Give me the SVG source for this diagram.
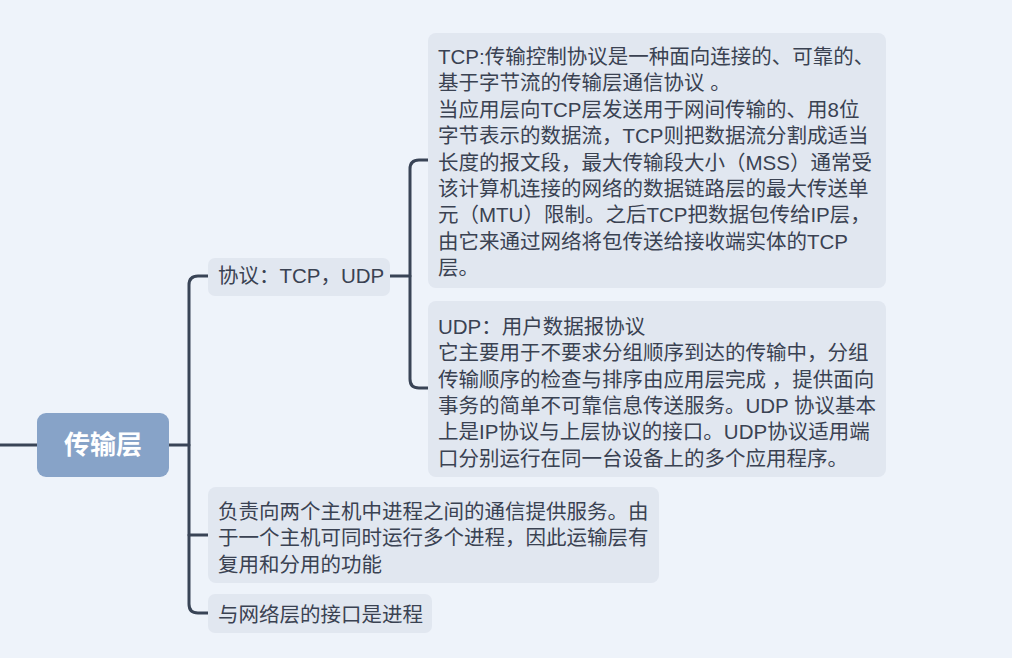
<svg xmlns="http://www.w3.org/2000/svg" width="1012" height="658" viewBox="0 0 1012 658">
<style>
.bg{fill:#eef3fa}
.box{fill:#e1e7f0}
.root{fill:#87a3c8}
.t{font-family:"Liberation Sans","Noto Sans CJK SC",sans-serif;font-size:20.5px;fill:#3a4252}
.rt{font-family:"Liberation Sans","Noto Sans CJK SC",sans-serif;font-size:26px;font-weight:bold;fill:#ffffff}
.c{fill:none;stroke:#394456;stroke-width:3;stroke-linecap:round;stroke-linejoin:round}
</style>
<rect class="bg" x="0" y="0" width="1012" height="658"/>
<g id="connectors">
<path class="c" d="M0 445 H37"/>
<path class="c" d="M169 445 H189"/>
<path class="c" d="M208 276 H198 Q189 276 189 285 V604 Q189 613 198 613 H208"/>
<path class="c" d="M189 535 H208"/>
<path class="c" d="M390 276 H410"/>
<path class="c" d="M428 160 H419 Q410 160 410 169 V379 Q410 388 419 388 H428"/>
</g>
<g id="root">
<rect class="root" x="37" y="413" width="132" height="64" rx="9"/>
<text class="rt" x="103" y="454" text-anchor="middle">传输层</text>
</g>
<g id="n-protocol">
<rect class="box" x="208" y="258" width="182" height="38" rx="7"/>
<text class="t" x="218" y="283">协议：TCP，UDP</text>
</g>
<g id="n-tcp">
<rect class="box" x="428" y="33" width="458" height="255" rx="8"/>
<text class="t">
<tspan x="438" y="64">TCP:传输控制协议是一种面向连接的、可靠的、</tspan>
<tspan x="438" y="90">基于字节流的传输层通信协议 。</tspan>
<tspan x="438" y="117">当应用层向TCP层发送用于网间传输的、用8位</tspan>
<tspan x="438" y="143">字节表示的数据流，TCP则把数据流分割成适当</tspan>
<tspan x="438" y="170">长度的报文段，最大传输段大小（MSS）通常受</tspan>
<tspan x="438" y="196">该计算机连接的网络的数据链路层的最大传送单</tspan>
<tspan x="438" y="222">元（MTU）限制。之后TCP把数据包传给IP层，</tspan>
<tspan x="438" y="249">由它来通过网络将包传送给接收端实体的TCP</tspan>
<tspan x="438" y="275">层。</tspan>
</text>
</g>
<g id="n-udp">
<rect class="box" x="428" y="301" width="458" height="176" rx="8"/>
<text class="t">
<tspan x="438" y="334">UDP：用户数据报协议</tspan>
<tspan x="438" y="360">它主要用于不要求分组顺序到达的传输中，分组</tspan>
<tspan x="438" y="387">传输顺序的检查与排序由应用层完成 ，提供面向</tspan>
<tspan x="438" y="413">事务的简单不可靠信息传送服务。UDP 协议基本</tspan>
<tspan x="438" y="439">上是IP协议与上层协议的接口。UDP协议适用端</tspan>
<tspan x="438" y="466">口分别运行在同一台设备上的多个应用程序。</tspan>
</text>
</g>
<g id="n-service">
<rect class="box" x="208" y="487" width="451" height="96" rx="8"/>
<text class="t">
<tspan x="218" y="519">负责向两个主机中进程之间的通信提供服务。由</tspan>
<tspan x="218" y="545">于一个主机可同时运行多个进程，因此运输层有</tspan>
<tspan x="218" y="572">复用和分用的功能</tspan>
</text>
</g>
<g id="n-interface">
<rect class="box" x="208" y="594" width="224" height="39" rx="7"/>
<text class="t" x="218" y="622">与网络层的接口是进程</text>
</g>
</svg>
